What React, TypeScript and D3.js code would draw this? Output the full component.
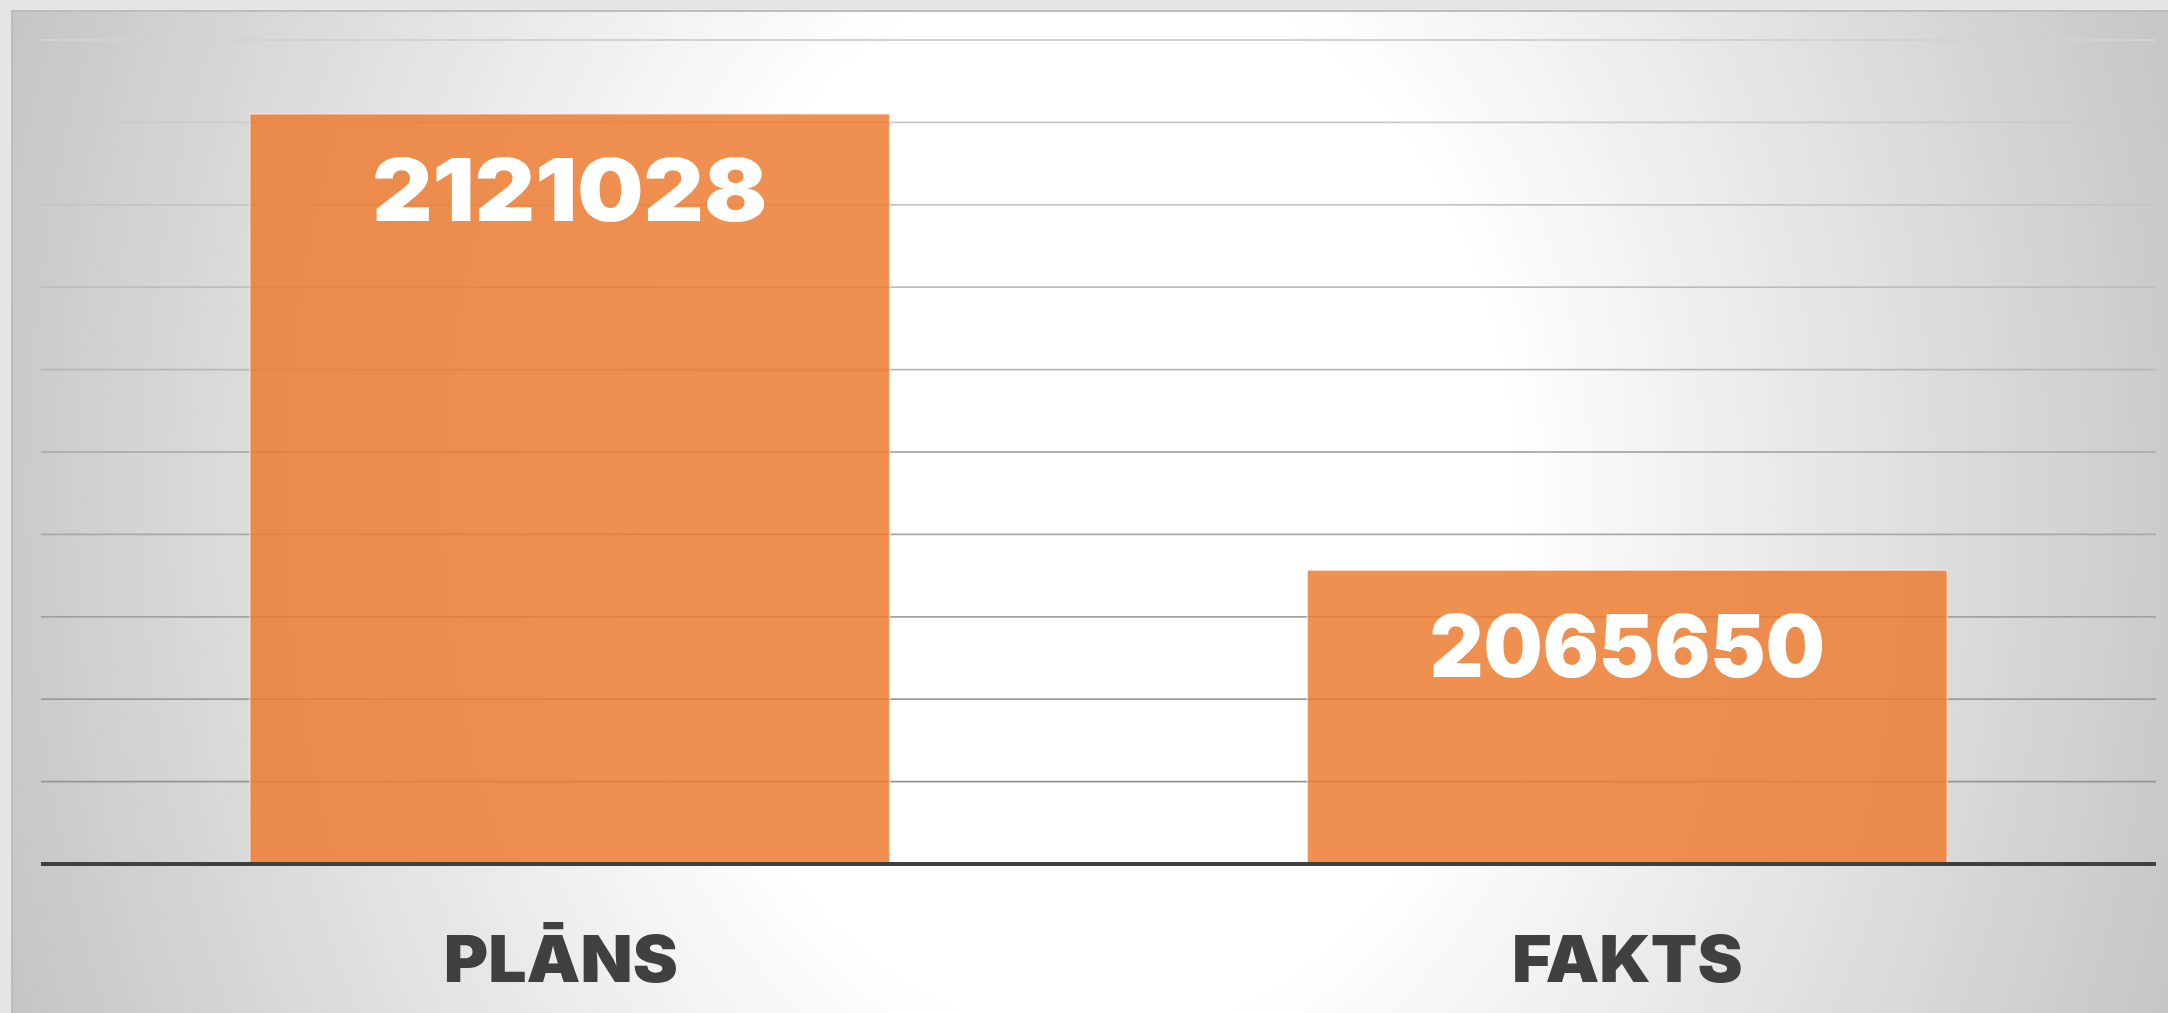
import React, { useEffect, useRef } from 'react';
import * as d3 from 'd3';

// chart values
const categories: string[] = ['PLĀNS', 'FAKTS'];
const values: number[] = [2121028, 2065650];
const axisMin = 2030000;
const axisMax = 2130000;
const tickStep = 10000;

const App: React.FC = () => {
  const svgRef = useRef<SVGSVGElement>(null);

  useEffect(() => {
    if (!svgRef.current) return;

    const width = 2168;
    const height = 1013;
    const plot = { left: 41, right: 2156, top: 40, bottom: 864 };

    const svg = d3.select(svgRef.current);
    svg.selectAll('*').remove();
    svg.attr('width', width).attr('height', height);

    // background: page grey + elliptical white glow
    const defs = svg.append('defs');
    const cx = 1095;
    const cy = 500;
    const grad = defs
      .append('radialGradient')
      .attr('id', 'bgGlow')
      .attr('gradientUnits', 'userSpaceOnUse')
      .attr('cx', cx)
      .attr('cy', cy)
      .attr('r', 1211)
      .attr('gradientTransform', `translate(${cx},${cy}) scale(1, ${1550 / 1211}) translate(${-cx},${-cy})`);
    grad.append('stop').attr('offset', 0).attr('stop-color', '#ffffff');
    grad.append('stop').attr('offset', 0.34).attr('stop-color', '#ffffff');
    grad.append('stop').attr('offset', 1).attr('stop-color', '#c0c0c0');

    svg.append('rect').attr('width', width).attr('height', height).attr('fill', '#e6e6e6');
    svg
      .append('rect')
      .attr('x', 11)
      .attr('y', 10)
      .attr('width', width - 11)
      .attr('height', height - 10)
      .attr('fill', 'url(#bgGlow)');
    svg
      .append('line')
      .attr('x1', 11)
      .attr('x2', width)
      .attr('y1', 11)
      .attr('y2', 11)
      .attr('stroke', '#bdbdbd')
      .attr('stroke-width', 2);
    svg
      .append('line')
      .attr('x1', 12)
      .attr('x2', 12)
      .attr('y1', 10)
      .attr('y2', height)
      .attr('stroke', '#bdbdbd')
      .attr('stroke-width', 2);

    const xScale = d3
      .scaleBand<string>()
      .domain(categories)
      .range([plot.left, plot.right])
      .paddingInner(0.395)
      .paddingOuter(0.1975);

    const yScale = d3.scaleLinear().domain([axisMin, axisMax]).range([plot.bottom, plot.top]);

    // gridlines get darker towards the bottom
    const ticks = d3.range(axisMin + tickStep, axisMax + 1, tickStep);
    const gridColor = d3.interpolateRgb('#8e8e8e', '#d2d2d2');
    svg
      .append('g')
      .selectAll('line')
      .data(ticks)
      .enter()
      .append('line')
      .attr('x1', plot.left)
      .attr('x2', plot.right)
      .attr('y1', (d) => yScale(d))
      .attr('y2', (d) => yScale(d))
      .attr('stroke', (d) => gridColor((d - axisMin) / (axisMax - axisMin)))
      .attr('stroke-width', 1.8);

    const data = categories.map((c, i) => ({ category: c, value: values[i] }));

    svg
      .append('g')
      .selectAll('rect')
      .data(data)
      .enter()
      .append('rect')
      .attr('x', (d) => xScale(d.category)!)
      .attr('y', (d) => yScale(d.value))
      .attr('width', xScale.bandwidth())
      .attr('height', (d) => plot.bottom - yScale(d.value))
      .attr('fill', '#ed7d31')
      .attr('fill-opacity', 0.85)
      .attr('stroke', '#ffffff')
      .attr('stroke-opacity', 0.5)
      .attr('stroke-width', 1.5);

    // baseline
    svg
      .append('line')
      .attr('x1', plot.left)
      .attr('x2', plot.right)
      .attr('y1', plot.bottom)
      .attr('y2', plot.bottom)
      .attr('stroke', '#404040')
      .attr('stroke-width', 4);

    // value labels inside the bars, both stretched to the same width
    svg
      .append('g')
      .selectAll('text')
      .data(data)
      .enter()
      .append('text')
      .attr('x', (d) => xScale(d.category)! + xScale.bandwidth() / 2)
      .attr('y', (d) => yScale(d.value) + 107)
      .attr('text-anchor', 'middle')
      .attr('font-family', 'Inter, "Liberation Sans", sans-serif')
      .attr('font-weight', 900)
      .attr('font-size', 87)
      .attr('textLength', 395)
      .attr('lengthAdjust', 'spacingAndGlyphs')
      .attr('fill', '#ffffff')
      .text((d) => String(d.value));

    // category labels
    svg
      .append('g')
      .selectAll('g')
      .data(categories)
      .enter()
      .append('g')
      .attr('transform', (d, i) => `translate(${xScale(d)! + xScale.bandwidth() / 2 - (i === 0 ? 9 : 0)}, ${plot.bottom + 118}) scale(1.06, 1)`)
      .append('text')
      .attr('text-anchor', 'middle')
      .attr('font-family', 'Inter, "Liberation Sans", sans-serif')
      .attr('font-weight', 900)
      .attr('font-size', 64)
      .attr('fill', '#404040')
      .text((d) => d);
  }, []);

  return (
    <div style={{ position: 'fixed', left: 0, top: 0 }}>
      <svg ref={svgRef} style={{ display: 'block' }}></svg>
    </div>
  );
};

export default App;
